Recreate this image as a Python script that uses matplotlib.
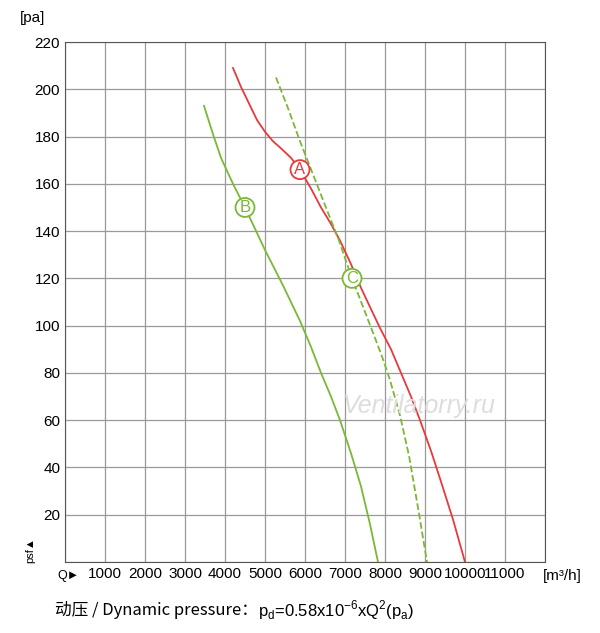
import matplotlib
matplotlib.use("Agg")
import matplotlib.pyplot as plt
plt.rcParams['font.family'] = ['Liberation Sans', 'Noto Sans CJK SC', 'DejaVu Sans']

a_x = [4200, 4400, 4600, 4800, 5000, 5200, 5400, 5650, 5875, 6150, 6400, 6650, 6875, 7150, 7400, 7650, 7875, 8150, 8400, 8650, 8875, 9150, 9400, 9700, 10000]
a_y = [209, 201, 194, 187, 182, 178, 175, 171, 166, 158, 150, 143, 136, 126, 116, 107, 99, 90, 80, 70, 60, 47, 34, 18, 0]
b_x = [3475, 3700, 3900, 4200, 4500, 4750, 5000, 5450, 5875, 6150, 6400, 6650, 6875, 7150, 7400, 7625, 7825]
b_y = [193, 181, 171, 160, 150, 141, 132, 117, 102, 91, 80, 70, 60, 46, 32, 16, 0]
c_x = [5275, 5575, 5875, 6200, 6500, 6850, 7175, 7450, 7700, 7925, 8125, 8375, 8600, 8825, 9050]
c_y = [205, 192, 178, 164, 151, 136, 120, 108, 97, 87, 77, 62, 45, 23, 0]
xticks = list(range(1000, 12000, 1000))
yticks = list(range(20, 240, 20))

fig = plt.figure(figsize=(6, 6.33), dpi=100)
ax = fig.add_axes([65/600, 1-562/633, 480/600, 520/633])
ax.set_xlim(0, 12000); ax.set_ylim(0, 220)
ax.set_xticks(range(0, 12001, 1000)); ax.set_yticks(range(0, 221, 20))
ax.set_xticklabels([''] + [str(v) for v in xticks] + [''])
ax.set_yticklabels([''] + [str(v) for v in yticks])
ax.grid(True, color='#999999', lw=0.9)
ax.tick_params(length=0, labelsize=11)
for s in ax.spines.values():
    s.set_color('#555555')
red = '#e8393c'; green = '#7ab836'
ax.plot(a_x, a_y, color=red, lw=1.3)
ax.plot(b_x, b_y, color=green, lw=1.3)
ax.plot(c_x, c_y, color=green, lw=1.3, ls='--')
for (x, y, t, c) in [(5875, 166, 'A', red), (4500, 150, 'B', green), (7175, 120, 'C', green)]:
    ax.text(x, y, t, color=c, ha='center', va='center', fontsize=12,
            bbox=dict(boxstyle='circle,pad=0.12', fc='white', ec=c, lw=1.3))
ax.text(6950, 63, 'Ventilatorry.ru', color='#dddddd', fontsize=18, style='italic', ha='left')
fig.text(20/600, 1-18/633, '[pa]', fontsize=11, va='center')
fig.text(543/600, 1-576/633, '[m³/h]', fontsize=11, va='center')
fig.text(57/600, 1-576/633, 'Q►', fontsize=9, va='center')
fig.text(30/600, 1-550/633, 'psf▲', fontsize=8, va='center', ha='center', rotation=90)
fig.text(55/600, 1-610/633, '动压 / Dynamic pressure：', fontsize=12, va='center',
         family=['Noto Sans CJK SC', 'DejaVu Sans'])
fig.text(258/600, 1-610/633, 'p$_\\mathregular{d}$=0.58x10$^\\mathregular{-6}$xQ$^\\mathregular{2}$(p$_\\mathregular{a}$)',
         fontsize=12, va='center')
fig.savefig('out.png')
